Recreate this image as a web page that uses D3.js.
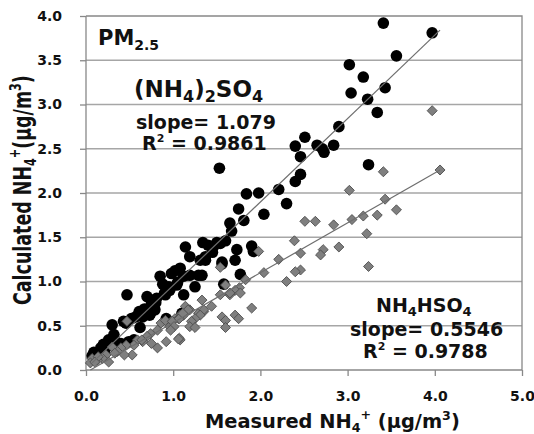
<!DOCTYPE html>
<html><head><meta charset="utf-8">
<script src="https://cdn.jsdelivr.net/npm/d3@7"></script>
<style>body{margin:0;background:#fff}svg{display:block}text{font-family:"DejaVu Sans",sans-serif;font-weight:bold;fill:#111}</style>
</head><body>
<svg id="c" width="534" height="434"></svg>
<script>
// (NH4)2SO4 series: [measured, calculated]
const sulfate = [
[3.41,3.92],[3.97,3.81],[3.56,3.55],[3.02,3.45],[3.18,3.31],[3.04,3.13],[3.43,3.19],[3.23,3.06],[3.34,2.91],[2.90,2.75],
[2.51,2.63],[2.40,2.53],[2.65,2.54],[2.71,2.50],[2.73,2.46],[2.84,2.54],[2.46,2.41],[2.46,2.21],[2.40,2.13],[3.24,2.32],
[1.53,2.28],[2.21,2.04],[1.98,2.00],[1.84,1.99],[2.30,1.88],[1.75,1.82],[2.04,1.76],[1.81,1.69],[1.65,1.66],[1.67,1.57],
[1.34,1.44],[1.46,1.39],[1.54,1.43],[1.60,1.46],[1.73,1.36],[1.90,1.40],[1.92,1.34],[1.37,1.24],[1.56,1.20],[1.71,1.24],
[1.77,1.08],[1.33,1.07],[1.58,0.97],[1.14,1.39],[1.19,1.28],[1.31,1.24],[1.37,1.28],[1.56,1.22],[1.08,1.15],[0.98,1.09],
[0.85,1.06],[1.12,1.06],[1.19,1.07],[1.29,1.07],[1.25,0.94],[1.04,0.96],[0.96,0.90],[0.91,0.85],[0.81,0.81],[0.75,0.75],
[1.12,0.85],[0.79,0.68],[0.73,0.62],[1.10,0.64],[0.47,0.85],[0.70,0.83],[0.80,0.76],[0.90,0.87],[0.95,0.94],[1.05,0.99],
[0.61,0.66],[0.67,0.69],[0.74,0.64],[0.57,0.60],[0.30,0.51],[0.46,0.53],[0.32,0.40],[0.34,0.32],[0.26,0.34],[0.24,0.26],
[0.17,0.25],[0.21,0.21],[0.09,0.20],[0.07,0.16],[0.40,0.30],[0.49,0.32],[0.55,0.34],[0.62,0.48],[1.40,1.41],[1.50,1.44],
[1.45,1.33],[1.02,1.12],[0.88,0.97],[0.65,0.60],[0.43,0.55],[0.52,0.58],[0.92,0.58],[0.20,0.29]
];
// NH4HSO4 series: [measured, calculated]
const bisulfate = [
[3.97,2.93],[3.41,2.24],[4.06,2.26],[3.02,2.03],[3.43,1.93],[3.56,1.81],[3.34,1.75],[3.18,1.74],[3.05,1.70],[3.22,1.54],
[2.84,1.64],[2.63,1.68],[2.51,1.68],[2.90,1.39],[2.72,1.36],[2.69,1.30],[2.46,1.32],[2.46,1.13],[3.24,1.17],[2.39,1.46],
[2.21,1.25],[2.40,1.11],[2.30,1.00],[2.04,1.10],[1.98,1.34],[1.83,1.02],[1.54,1.16],[1.60,0.96],[1.76,0.93],[1.71,0.90],
[1.77,0.87],[1.65,0.85],[1.54,0.85],[1.65,0.87],[1.33,0.79],[1.44,0.72],[1.90,0.70],[1.35,0.66],[1.29,0.64],[1.19,0.68],
[1.14,0.66],[1.56,0.60],[1.60,0.56],[1.71,0.62],[1.75,0.58],[1.60,0.48],[1.08,0.62],[1.02,0.58],[0.98,0.55],[1.14,0.72],
[1.17,0.68],[1.12,0.62],[1.06,0.58],[1.35,0.68],[1.31,0.62],[1.25,0.58],[1.21,0.55],[1.19,0.49],[1.25,0.48],[1.08,0.34],
[0.96,0.49],[0.47,0.55],[0.86,0.53],[0.91,0.56],[0.99,0.55],[1.07,0.58],[1.11,0.64],[0.82,0.45],[0.74,0.41],[0.70,0.38],
[0.65,0.32],[0.59,0.34],[0.55,0.28],[0.92,0.32],[1.07,0.36],[0.82,0.25],[0.46,0.28],[0.40,0.25],[0.36,0.21],[0.53,0.17],
[0.44,0.17],[0.30,0.26],[0.23,0.17],[0.19,0.13],[0.13,0.11],[0.07,0.13],[0.05,0.08],[0.26,0.09],[1.01,0.49],[0.97,0.45],
[1.06,0.35],[0.64,0.34],[0.75,0.30],[0.33,0.19],[0.14,0.15],[0.10,0.09]
];
const sulfateFit = [[0.07,0.08],[4.06,3.84]];
const bisulfateFit = [[0.05,0.0],[4.06,2.26]];
const xTicks = [0,1,2,3,4,5];
const yTicks = [0,0.5,1,1.5,2,2.5,3,3.5,4];

const svg = d3.select("#c");
const x = d3.scaleLinear().domain([0,5]).range([86,522]);
const y = d3.scaleLinear().domain([0,4]).range([370,16]);

// gridlines
svg.append("g").selectAll("line").data(yTicks.filter(d=>d>0&&d<4)).join("line")
  .attr("x1",x(0)).attr("x2",x(5)).attr("y1",d=>y(d)).attr("y2",d=>y(d))
  .attr("stroke","#a6a6a6").attr("stroke-width",1.3);
// frame top/right
svg.append("path").attr("d",`M${x(0)},${y(4)}H${x(5)}V${y(0)}`).attr("fill","none").attr("stroke","#888").attr("stroke-width",1.3);

// axes
const xa = svg.append("g").attr("transform",`translate(0,${y(0)})`)
  .call(d3.axisBottom(x).tickValues(xTicks).tickFormat(d3.format(".1f")).tickSize(6).tickPadding(15));
const ya = svg.append("g").attr("transform",`translate(${x(0)},0)`)
  .call(d3.axisLeft(y).tickValues(yTicks).tickFormat(d3.format(".1f")).tickSize(6).tickPadding(18));
[xa,ya].forEach(a=>{
  a.selectAll("path,line").attr("stroke","#888").attr("stroke-width",1.3);
  a.selectAll("text").attr("font-size",14).attr("font-family","DejaVu Sans").attr("font-weight","bold").attr("fill","#111");
});
xa.select(".domain").attr("d",`M${x(0)},0H${x(5)}`);
ya.select(".domain").attr("d",`M0,${y(0)}V${y(4)}`);

// points
svg.append("g").selectAll("circle").data(sulfate).join("circle")
  .attr("cx",d=>x(d[0])).attr("cy",d=>y(d[1])).attr("r",5.8).attr("fill","#000");
const diamond = d3.symbol().type(d3.symbolDiamond2).size(64);
svg.append("g").selectAll("path").data(bisulfate).join("path")
  .attr("d",diamond).attr("transform",d=>`translate(${x(d[0])},${y(d[1])})`)
  .attr("fill","#7f7f7f").attr("stroke","#4d4d4d").attr("stroke-width",0.9);

// fit lines
const line = d3.line().x(d=>x(d[0])).y(d=>y(d[1]));
[sulfateFit,bisulfateFit].forEach(f=>svg.append("path").attr("d",line(f)).attr("fill","none").attr("stroke","#6e6e6e").attr("stroke-width",1.2));

// PM2.5
const pm = svg.append("text").attr("x",98).attr("y",45).attr("font-size",21);
pm.append("tspan").text("PM");
pm.append("tspan").text("2.5").attr("font-size",14).attr("dy",5);

const a1 = svg.append("text").attr("x",134).attr("y",97).attr("font-size",23);
a1.append("tspan").text("(NH");
a1.append("tspan").text("4").attr("font-size",16).attr("dy",5);
a1.append("tspan").text(")").attr("dy",-5);
a1.append("tspan").text("2").attr("font-size",16).attr("dy",5);
a1.append("tspan").text("SO").attr("dy",-5);
a1.append("tspan").text("4").attr("font-size",16).attr("dy",5);

svg.append("text").attr("x",136).attr("y",129).attr("font-size",19).text("slope= 1.079");
const r1 = svg.append("text").attr("x",142).attr("y",150).attr("font-size",19);
r1.append("tspan").text("R");
r1.append("tspan").text("2").attr("font-size",11).attr("dy",-8);
r1.append("tspan").text(" = 0.9861").attr("dy",8);

const a2 = svg.append("text").attr("x",376).attr("y",312).attr("font-size",19);
a2.append("tspan").text("NH");
a2.append("tspan").text("4").attr("font-size",13).attr("dy",4);
a2.append("tspan").text("HSO").attr("dy",-4);
a2.append("tspan").text("4").attr("font-size",13).attr("dy",4);

svg.append("text").attr("x",350).attr("y",336).attr("font-size",19).text("slope= 0.5546");
const r2 = svg.append("text").attr("x",363).attr("y",358).attr("font-size",19);
r2.append("tspan").text("R");
r2.append("tspan").text("2").attr("font-size",11).attr("dy",-8);
r2.append("tspan").text(" = 0.9788").attr("dy",8);

// axis titles
const xt = svg.append("text").attr("text-anchor","start").attr("font-size",20)
  .attr("font-family","Noto Sans").attr("font-weight","600");
xt.append("tspan").text("Measured NH");
xt.append("tspan").text("4").attr("font-size",13).attr("dy",4);
xt.append("tspan").text("+").attr("font-size",13).attr("dy",-13);
xt.append("tspan").text(" (μg/m").attr("dy",9);
xt.append("tspan").text("3").attr("font-size",13).attr("dy",-8);
xt.append("tspan").text(")").attr("dy",8);
{
  const L = xt.node().getComputedTextLength();
  xt.attr("transform",`translate(205,428) scale(${255/L},1)`);
}

const yt = svg.append("text").attr("text-anchor","start").attr("font-size",25)
  .attr("font-family","Noto Sans").attr("font-weight","bold");
yt.append("tspan").text("Calculated NH");
yt.append("tspan").text("4").attr("font-size",16).attr("dy",5);
yt.append("tspan").text("+").attr("font-size",16).attr("dy",-16);
yt.append("tspan").text("(μg/m").attr("dy",11);
yt.append("tspan").text("3").attr("font-size",16).attr("dy",-10);
yt.append("tspan").text(")").attr("dy",10);
{
  const L = yt.node().getComputedTextLength();
  yt.attr("transform",`translate(31,305) rotate(-90) scale(${230/L},1)`);
}
</script>
</body></html>
